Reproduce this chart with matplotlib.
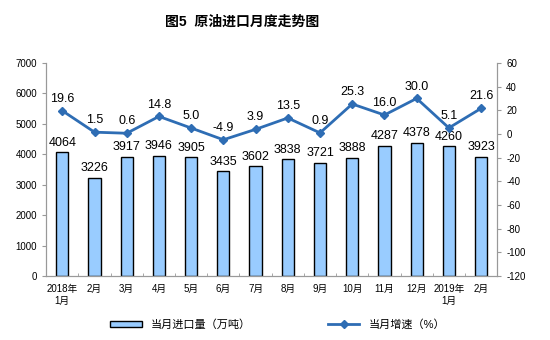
import matplotlib.pyplot as plt
import numpy as np

plt.rcParams['font.family'] = ['Liberation Sans', 'Noto Sans CJK SC', 'DejaVu Sans']
plt.rcParams['axes.unicode_minus'] = False

months = ['2018年\n1月', '2月', '3月', '4月', '5月', '6月', '7月', '8月', '9月',
          '10月', '11月', '12月', '2019年\n1月', '2月']
imports = [4064, 3226, 3917, 3946, 3905, 3435, 3602, 3838, 3721, 3888, 4287, 4378, 4260, 3923]
growth = [19.6, 1.5, 0.6, 14.8, 5.0, -4.9, 3.9, 13.5, 0.9, 25.3, 16.0, 30.0, 5.1, 21.6]

fig = plt.figure(figsize=(5.5, 3.4), dpi=100)
ax = fig.add_axes([0.084, 0.188, 0.82, 0.627])
x = np.arange(len(months))

bars = ax.bar(x, imports, width=0.38, color='#99CCFF', edgecolor='black', linewidth=1.0,
              label='当月进口量（万吨）')
for xi, v in zip(x, imports):
    ax.text(xi, v + 120, str(v), ha='center', va='bottom', fontsize=9)

ax.set_xlim(-0.5, len(months) - 0.5)
ax.set_ylim(0, 7000)
ax.set_yticks(range(0, 7001, 1000))
ax.set_xticks(x)
ax.set_xticklabels(months, fontsize=7)
ax.tick_params(axis='y', labelsize=7, length=3, color='#999999')
ax.tick_params(axis='x', length=0, pad=6)
ax.set_xticks(x[:-1] + 0.5, minor=True)
ax.tick_params(axis='x', which='minor', length=2, direction='in', color='#999999')
ax.spines['top'].set_visible(False)
for s in ['left', 'bottom', 'right']:
    ax.spines[s].set_color('#999999')

ax2 = ax.twinx()
line, = ax2.plot(x, growth, color='#2E6DB4', linewidth=2, marker='D', markersize=4,
                 label='当月增速（%）')
for xi, v in zip(x, growth):
    ax2.text(xi, v + 5, f'{v:.1f}', ha='center', va='bottom', fontsize=9)
ax2.set_ylim(-120, 60)
ax2.set_yticks(range(-120, 61, 20))
ax2.tick_params(axis='y', labelsize=7, length=3, color='#999999')
ax2.spines['top'].set_visible(False)
for s in ['left', 'bottom', 'right']:
    ax2.spines[s].set_color('#999999')

fig.text(0.44, 0.935, '图5  原油进口月度走势图', ha='center', va='center', fontsize=10,
         fontweight='bold')

fig.legend([bars, line], ['当月进口量（万吨）', '当月增速（%）'], loc='center',
           bbox_to_anchor=(0.505, 0.045), ncol=2, frameon=False, fontsize=8,
           handlelength=2.8, handleheight=0.5, columnspacing=7)

fig.savefig('out.png', dpi=100)
